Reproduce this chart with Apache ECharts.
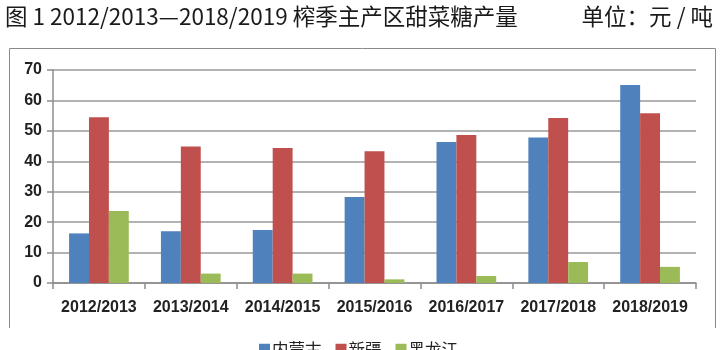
<!DOCTYPE html>
<html>
<head>
<meta charset="utf-8">
<script src="https://cdn.jsdelivr.net/npm/echarts@6/dist/echarts.min.js"></script>
<style>
  html, body { margin: 0; padding: 0; background: #fff; }
  #chart { width: 720px; height: 350px; }
</style>
</head>
<body>
<div id="chart"></div>
<script>
const seasons = ['2012/2013', '2013/2014', '2014/2015', '2015/2016', '2016/2017', '2017/2018', '2018/2019']
const neimenggu = [16.3, 17.0, 17.4, 28.3, 46.3, 47.8, 65.1]
const xinjiang = [54.5, 44.9, 44.4, 43.3, 48.6, 54.2, 55.8]
const heilongjiang = [23.7, 3.1, 3.1, 1.2, 2.3, 6.9, 5.3]

const cjk = '"Noto Sans CJK SC", sans-serif'
const bar = (name, data, color) => ({
  name: name,
  type: 'bar',
  data: data,
  barGap: 0,
  barCategoryGap: '35%',
  itemStyle: { color: color },
})

const c = echarts.init(document.getElementById('chart'))
c.setOption({
  animation: false,
  grid: { left: 53, right: 24, top: 70, bottom: 67 },
  graphic: [
    {
      type: 'polyline',
      shape: { points: [[9.5, 328], [9.5, 48.5], [715.5, 48.5], [715.5, 328]] },
      style: { stroke: '#8a8a8a', lineWidth: 1, fill: null },
    },
    {
      type: 'text', left: 5, top: 5,
      style: { text: '图 1 2012/2013—2018/2019 榨季主产区甜菜糖产量', font: '22.5px ' + cjk, fill: '#1a1a1a' },
    },
    {
      type: 'text', right: 7, top: 5,
      style: { text: '单位：元 / 吨', font: '22.5px ' + cjk, fill: '#1a1a1a' },
    },
  ],
  legend: {
    left: 254, top: 336,
    itemWidth: 11, itemHeight: 11, itemGap: 14,
    icon: 'rect',
    textStyle: { fontFamily: cjk, fontSize: 16.5, color: '#222', padding: [0, 0, 0, -3] },
  },
  xAxis: {
    type: 'category',
    data: seasons,
    axisLine: { lineStyle: { color: '#8c8c8c', width: 1.5 } },
    axisTick: { show: true, length: 6, lineStyle: { color: '#8c8c8c', width: 1.5 } },
    axisLabel: { interval: 0, color: '#222', fontFamily: 'Liberation Sans', fontWeight: 'bold', fontSize: 16, margin: 17 },
  },
  yAxis: {
    type: 'value',
    min: 0, max: 70, interval: 10,
    axisLine: { show: true, lineStyle: { color: '#8c8c8c', width: 1.5 } },
    axisTick: { show: true, length: 6, lineStyle: { color: '#8c8c8c', width: 1.5 } },
    splitLine: { lineStyle: { color: '#999', width: 1.5 } },
    axisLabel: { color: '#222', fontFamily: 'Liberation Sans', fontWeight: 'bold', fontSize: 16, margin: 11 },
  },
  series: [
    bar('内蒙古', neimenggu, '#4f81bd'),
    bar('新疆', xinjiang, '#c0504d'),
    bar('黑龙江', heilongjiang, '#9bbb59'),
  ],
})
</script>
</body>
</html>
